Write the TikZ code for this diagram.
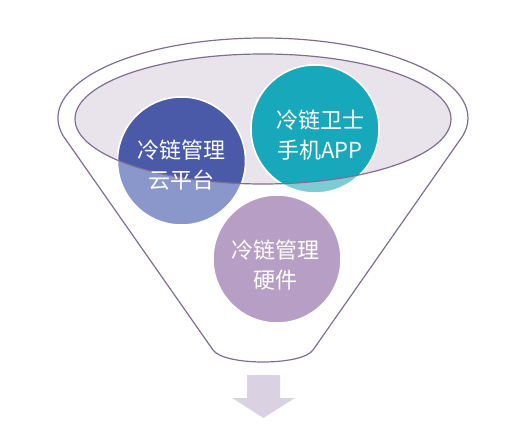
\documentclass[tikz,border=0pt]{standalone}
\usepackage{fontspec}
\newfontfamily\cjk{Noto Sans CJK SC}
\definecolor{rimline}{RGB}{128,110,145}
\definecolor{bowl}{RGB}{233,228,236}
\definecolor{clouddark}{RGB}{74,90,168}
\definecolor{cloudlight}{RGB}{138,151,203}
\definecolor{appdark}{RGB}{23,168,188}
\definecolor{applight}{RGB}{125,203,212}
\definecolor{hardware}{RGB}{183,158,196}
\definecolor{outarrow}{RGB}{218,210,226}
\begin{document}
\begin{tikzpicture}[x=1pt,y=-1pt,
  rim/.style={draw=rimline,line width=1.2pt},
  bubble/.style={circle,minimum size=128pt,inner sep=0pt,draw=white,line width=1.5pt},
  bubbletext/.style={text=white,align=center,font=\cjk\fontsize{22pt}{30pt}\selectfont}]
\useasboundingbox (0,0) rectangle (520,428);
\draw[rim] (63,135.6) arc[start angle=192.7,end angle=-12.7,x radius=205pt,y radius=80pt] -- (313,350) .. controls (302,366) and (224,366) .. (213,350) -- cycle;
\fill[bowl] (263,119) ellipse[x radius=188pt,y radius=65pt];
\node[bubble,fill=cloudlight] (cloud) at (181.5,161) {};
\node[bubble,fill=applight] (app) at (315,129) {};
\node[bubble,fill=hardware] (hw) at (277,259) {};
\begin{scope}
  \clip (263,119) ellipse[x radius=188pt,y radius=65pt];
  \node[bubble,fill=clouddark] (cloudin) at (cloud) {};
  \node[bubble,fill=appdark] (appin) at (app) {};
\end{scope}
\draw[rim] (263,119) ellipse[x radius=188pt,y radius=65pt];
\node[bubbletext] (cloudtxt) at (181,165) {冷链管理\\云平台};
\node[bubbletext] (apptxt) at (320,135) {冷链卫士\\手机APP};
\node[bubbletext] (hwtxt) at (275,265) {冷链管理\\硬件};
\fill[outarrow] (247,375) -- (280,375) -- (280,398) -- (295,398) -- (263.5,418) -- (232,398) -- (247,398) -- cycle;
\end{tikzpicture}
\end{document}
